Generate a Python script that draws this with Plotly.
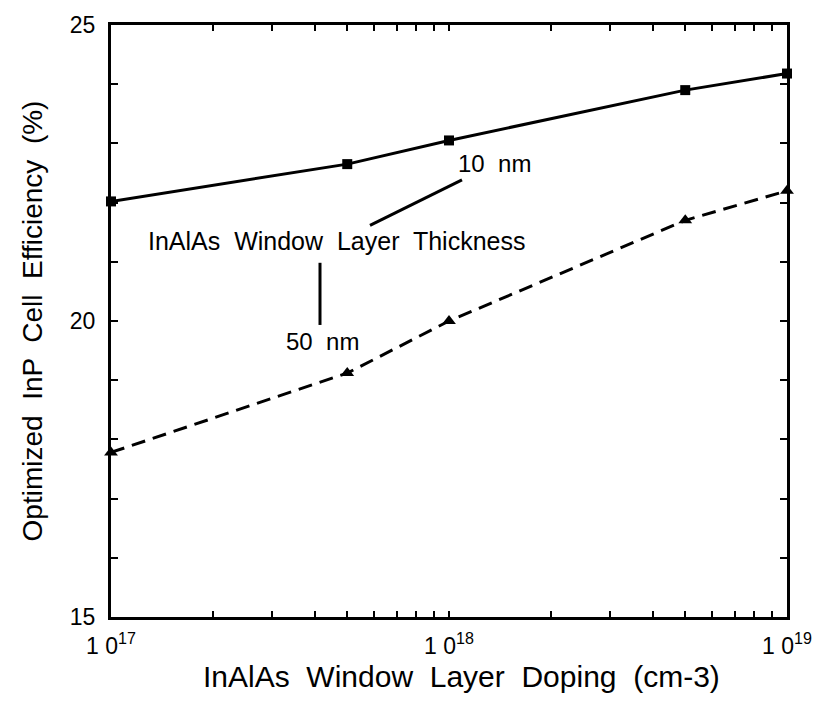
import plotly.graph_objects as go

doping = [1e17, 5e17, 1e18, 5e18, 1e19]
eff_10nm = [22.02, 22.65, 23.05, 23.9, 24.18]
eff_50nm = [17.78, 19.12, 20.0, 21.7, 22.2]

x_tickvals = [1e17, 2e17, 3e17, 4e17, 5e17, 6e17, 7e17, 8e17, 9e17,
              1e18, 2e18, 3e18, 4e18, 5e18, 6e18, 7e18, 8e18, 9e18, 1e19]
x_ticktext = ["1 0<sup>17</sup>"] + [""] * 8 + ["1 0<sup>18</sup>"] + [""] * 8 + ["1 0<sup>19</sup>"]
y_tickvals = list(range(15, 26))
y_ticktext = ["15", "", "", "", "", "20", "", "", "", "", "25"]

FONT = "Liberation Sans, Arial, sans-serif"

fig = go.Figure()
fig.add_trace(go.Scatter(
    x=doping, y=eff_10nm, mode="lines+markers", name="10 nm",
    line=dict(color="black", width=3),
    marker=dict(symbol="square", size=10, color="black"),
    cliponaxis=False,
))
fig.add_trace(go.Scatter(
    x=doping, y=eff_50nm, mode="lines+markers", name="50 nm",
    line=dict(color="black", width=3, dash="14px,8px"),
    marker=dict(symbol="triangle-up", size=12, color="black"),
    cliponaxis=False,
))

def lx(px):
    return 17 + (px - 111) / 338.0

def ly(py):
    return 25 - (py - 17) / 60.0

# annotation leader lines (shapes on log axes take data values)
fig.add_shape(type="line", x0=10 ** lx(370), y0=ly(220), x1=10 ** lx(462), y1=ly(174),
              line=dict(color="black", width=3))
fig.add_shape(type="line", x0=10 ** lx(320), y0=ly(258), x1=10 ** lx(320), y1=ly(321),
              line=dict(color="black", width=3))

fig.add_annotation(x=lx(494), y=ly(157), text="10  nm", showarrow=False,
                   font=dict(family=FONT, size=24, color="black"))
fig.add_annotation(x=lx(336), y=ly(236), text="InAlAs  Window  Layer  Thickness", showarrow=False,
                   font=dict(family=FONT, size=25, color="black"))
fig.add_annotation(x=lx(322), y=ly(338), text="50  nm", showarrow=False,
                   font=dict(family=FONT, size=24, color="black"))

# x-axis title as paper annotation for precise placement
fig.add_annotation(xref="paper", yref="paper", x=(461 - 111) / 676.0, y=(617 - 677) / 600.0,
                   text="InAlAs  Window  Layer  Doping  (cm-3)", showarrow=False,
                   xanchor="center", yanchor="middle",
                   font=dict(family=FONT, size=30, color="black"))

fig.update_layout(
    width=830, height=708,
    margin=dict(l=111, r=43, t=17, b=91),
    paper_bgcolor="white", plot_bgcolor="white",
    showlegend=False,
    font=dict(family=FONT, color="black"),
)
fig.update_xaxes(
    type="log", range=[17, 19],
    tickvals=x_tickvals, ticktext=x_ticktext,
    ticks="inside", ticklen=6, tickwidth=2, tickcolor="black",
    showline=True, linewidth=3, linecolor="black", mirror="allticks",
    showgrid=False, zeroline=False, ticklabelstandoff=6,
    tickfont=dict(family=FONT, size=23, color="black"),
)
fig.update_yaxes(
    range=[15, 25],
    tickvals=y_tickvals, ticktext=y_ticktext,
    ticks="inside", ticklen=7, tickwidth=2, tickcolor="black",
    showline=True, linewidth=3, linecolor="black", mirror="allticks",
    showgrid=False, zeroline=False, ticklabelstandoff=8,
    tickfont=dict(family=FONT, size=23, color="black"),
    title=dict(text="Optimized  InP  Cell  Efficiency  (%)",
               font=dict(family=FONT, size=28, color="black"), standoff=20),
)

fig.write_html("out.html")
